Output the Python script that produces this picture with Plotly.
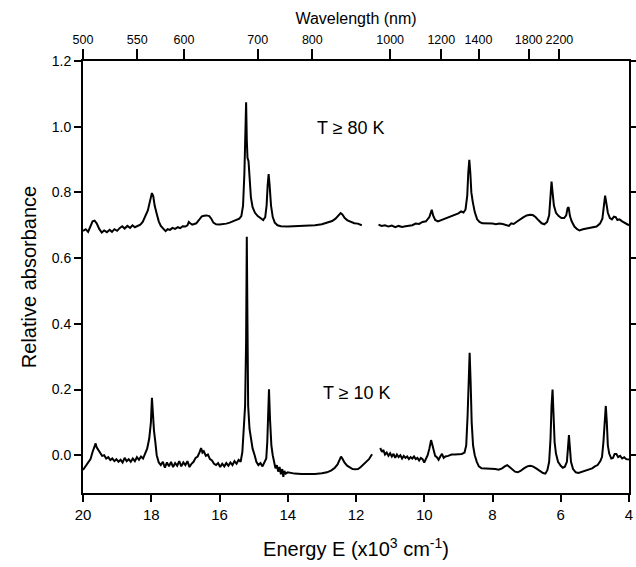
import plotly.graph_objects as go

# ---- T >= 80 K spectrum (energy in 10^3 cm^-1, relative absorbance); None marks the gap
energy_80 = [20.00, 19.92, 19.85, 19.78, 19.72, 19.66, 19.60, 19.52, 19.45, 19.38, 19.30, 19.22, 19.15, 19.08, 19.00,
             18.92, 18.85, 18.78, 18.70, 18.62, 18.55, 18.48, 18.40, 18.32, 18.25, 18.18, 18.10, 18.04, 17.98, 17.94,
             17.90, 17.84, 17.78, 17.72, 17.65, 17.58, 17.52, 17.45, 17.38, 17.30, 17.22, 17.15, 17.08, 17.00, 16.94,
             16.90, 16.86, 16.80, 16.74, 16.68, 16.60, 16.52, 16.45, 16.38, 16.30, 16.24, 16.18, 16.10, 16.00, 15.90,
             15.80, 15.70, 15.60, 15.50, 15.42, 15.36, 15.31, 15.27, 15.24, 15.22, 15.20, 15.18, 15.15, 15.12, 15.08,
             15.03, 14.96, 14.88, 14.80, 14.72, 14.66, 14.62, 14.59, 14.56, 14.53, 14.49, 14.44, 14.38, 14.30, 14.20,
             14.00, 13.80, 13.60, 13.40, 13.20, 13.00, 12.85, 12.70, 12.60, 12.52, 12.45, 12.40, 12.33, 12.25, 12.15,
             12.05, 11.95, 11.83, None,
             11.34, 11.25, 11.15, 11.05, 10.95, 10.85, 10.75, 10.65, 10.55, 10.45, 10.35, 10.25, 10.15, 10.05, 9.95,
             9.85, 9.78, 9.74, 9.68, 9.60, 9.50, 9.40, 9.30, 9.20, 9.10, 9.00, 8.92, 8.85, 8.79, 8.74,
             8.71, 8.68, 8.65, 8.62, 8.58, 8.52, 8.45, 8.38, 8.30, 8.20, 8.10, 8.00, 7.90, 7.80, 7.70,
             7.60, 7.52, 7.45, 7.38, 7.30, 7.20, 7.10, 7.00, 6.90, 6.82, 6.74, 6.65, 6.56, 6.48, 6.40,
             6.34, 6.30, 6.27, 6.24, 6.20, 6.14, 6.06, 5.98, 5.90, 5.84, 5.80, 5.77, 5.73, 5.68, 5.60,
             5.52, 5.45, 5.35, 5.25, 5.15, 5.05, 4.95, 4.85, 4.78, 4.74, 4.70, 4.66, 4.62, 4.56, 4.50,
             4.44, 4.39, 4.34, 4.28, 4.20, 4.12, 4.00]
absorb_80 = [0.683, 0.688, 0.680, 0.695, 0.712, 0.714, 0.706, 0.688, 0.678, 0.684, 0.679, 0.686, 0.680, 0.688, 0.683,
             0.692, 0.697, 0.690, 0.698, 0.692, 0.700, 0.694, 0.699, 0.702, 0.710, 0.725, 0.745, 0.772, 0.798, 0.788,
             0.760, 0.735, 0.712, 0.698, 0.690, 0.682, 0.688, 0.686, 0.692, 0.689, 0.694, 0.691, 0.697, 0.696, 0.700,
             0.710, 0.706, 0.702, 0.704, 0.706, 0.716, 0.727, 0.729, 0.730, 0.728, 0.720, 0.708, 0.703, 0.702, 0.703,
             0.705, 0.708, 0.712, 0.716, 0.720, 0.728, 0.760, 0.860, 0.960, 1.074, 0.960, 0.905, 0.895, 0.840, 0.785,
             0.755, 0.738, 0.728, 0.722, 0.716, 0.725, 0.760, 0.820, 0.856, 0.820, 0.760, 0.725, 0.708, 0.700, 0.697,
             0.696, 0.697, 0.697, 0.698, 0.700, 0.703, 0.707, 0.713, 0.720, 0.730, 0.737, 0.733, 0.722, 0.715, 0.710,
             0.706, 0.705, 0.700, None,
             0.702, 0.698, 0.700, 0.696, 0.699, 0.694, 0.698, 0.695, 0.697, 0.699, 0.700, 0.705, 0.704, 0.710, 0.712,
             0.725, 0.747, 0.730, 0.716, 0.712, 0.716, 0.720, 0.724, 0.727, 0.732, 0.736, 0.742, 0.739, 0.748, 0.790,
             0.860, 0.899, 0.860, 0.800, 0.772, 0.740, 0.718, 0.710, 0.706, 0.706, 0.704, 0.705, 0.703, 0.705, 0.704,
             0.700, 0.698, 0.706, 0.704, 0.710, 0.718, 0.724, 0.730, 0.732, 0.731, 0.725, 0.715, 0.706, 0.703, 0.710,
             0.730, 0.780, 0.833, 0.800, 0.760, 0.738, 0.728, 0.722, 0.722, 0.730, 0.752, 0.755, 0.728, 0.712, 0.696,
             0.688, 0.684, 0.688, 0.690, 0.692, 0.695, 0.696, 0.705, 0.720, 0.755, 0.790, 0.765, 0.738, 0.722, 0.718,
             0.726, 0.725, 0.716, 0.718, 0.712, 0.708, 0.700]

# ---- T >= 10 K spectrum
energy_10 = [20.00, 19.95, 19.90, 19.84, 19.78, 19.72, 19.66, 19.63, 19.60, 19.55, 19.50, 19.44, 19.38, 19.32, 19.26,
             19.20, 19.14, 19.08, 19.02, 18.96, 18.90, 18.84, 18.78, 18.72, 18.66, 18.60, 18.54, 18.48, 18.42, 18.36,
             18.30, 18.24, 18.18, 18.12, 18.06, 18.01, 17.98, 17.95, 17.92, 17.88, 17.84, 17.78, 17.72, 17.66, 17.60,
             17.54, 17.48, 17.42, 17.36, 17.30, 17.24, 17.18, 17.12, 17.06, 17.00, 16.94, 16.88, 16.82, 16.76, 16.70,
             16.64, 16.58, 16.54, 16.50, 16.46, 16.40, 16.34, 16.28, 16.22, 16.16, 16.10, 16.04, 15.98, 15.92, 15.86,
             15.80, 15.74, 15.68, 15.62, 15.56, 15.50, 15.44, 15.38, 15.33, 15.29, 15.25, 15.22, 15.20, 15.18, 15.16,
             15.12, 15.08, 15.03, 14.97, 14.92, 14.86, 14.80, 14.74, 14.68, 14.63, 14.60, 14.57, 14.55, 14.52, 14.48,
             14.44, 14.40, 14.36, 14.32, 14.28, 14.24, 14.20, 14.16, 14.13, 14.10, 14.06, 14.00, 13.80, 13.60, 13.40,
             13.20, 13.00, 12.85, 12.72, 12.62, 12.54, 12.48, 12.44, 12.40, 12.34, 12.26, 12.18, 12.10, 12.02, 11.94,
             11.86, 11.78, 11.70, 11.62, 11.53, None,
             11.29, 11.24, 11.20, 11.15, 11.10, 11.05, 11.00, 10.95, 10.90, 10.85, 10.80, 10.75, 10.70, 10.65, 10.60,
             10.55, 10.50, 10.45, 10.40, 10.35, 10.30, 10.25, 10.20, 10.15, 10.10, 10.05, 10.00, 9.95, 9.90, 9.85,
             9.80, 9.76, 9.72, 9.68, 9.63, 9.58, 9.53, 9.48, 9.43, 9.38, 9.30, 9.20, 9.10, 9.00, 8.90,
             8.82, 8.77, 8.73, 8.70, 8.67, 8.64, 8.61, 8.57, 8.52, 8.46, 8.40, 8.32, 8.22, 8.12, 8.02,
             7.92, 7.82, 7.72, 7.64, 7.57, 7.50, 7.42, 7.34, 7.26, 7.18, 7.08, 6.98, 6.90, 6.82, 6.72,
             6.62, 6.52, 6.45, 6.39, 6.34, 6.30, 6.27, 6.24, 6.21, 6.18, 6.14, 6.08, 6.00, 5.94, 5.88,
             5.82, 5.79, 5.76, 5.73, 5.70, 5.64, 5.56, 5.48, 5.38, 5.28, 5.18, 5.08, 5.00, 4.92, 4.84,
             4.79, 4.75, 4.71, 4.68, 4.65, 4.62, 4.58, 4.52, 4.47, 4.42, 4.37, 4.32, 4.26, 4.20, 4.14,
             4.08, 4.00]
absorb_10 = [-0.045, -0.038, -0.030, -0.020, -0.012, 0.010, 0.030, 0.036, 0.024, 0.015, 0.005, -0.002, 0.000, -0.010, -0.006,
             -0.015, -0.010, -0.018, -0.012, -0.020, -0.014, -0.022, -0.008, -0.018, -0.012, -0.020, -0.010, -0.018, -0.006, -0.014,
             -0.004, -0.010, 0.005, 0.020, 0.050, 0.100, 0.175, 0.120, 0.075, 0.040, 0.000, -0.022, -0.030, -0.020, -0.038,
             -0.022, -0.034, -0.020, -0.036, -0.024, -0.032, -0.018, -0.034, -0.022, -0.030, -0.018, -0.036, -0.026, -0.020, -0.008,
             -0.004, 0.010, 0.022, 0.008, 0.012, -0.002, 0.002, -0.012, -0.016, -0.026, -0.030, -0.024, -0.036, -0.026, -0.034,
             -0.024, -0.032, -0.022, -0.030, -0.018, -0.026, -0.014, -0.020, 0.010, 0.066, 0.150, 0.350, 0.665, 0.400, 0.150,
             0.080, 0.050, 0.020, 0.000, -0.020, -0.030, -0.024, -0.034, -0.020, -0.010, 0.040, 0.120, 0.201, 0.110, 0.030,
             0.000, -0.020, -0.040, -0.030, -0.050, -0.036, -0.058, -0.042, -0.066, -0.048, -0.056, -0.052, -0.056, -0.057, -0.058,
             -0.057, -0.055, -0.052, -0.046, -0.038, -0.028, -0.012, -0.004, -0.010, -0.022, -0.032, -0.038, -0.042, -0.043, -0.042,
             -0.036, -0.028, -0.020, -0.012, 0.003, None,
             0.022, 0.010, 0.016, 0.002, 0.008, -0.002, 0.006, -0.004, 0.004, -0.008, 0.002, -0.006, 0.000, -0.010, -0.002,
             -0.008, -0.004, -0.012, -0.006, -0.010, -0.004, -0.012, -0.008, -0.016, -0.008, -0.012, -0.022, -0.010, 0.000, 0.020,
             0.046, 0.030, 0.010, -0.002, -0.006, -0.014, -0.004, 0.004, -0.008, -0.004, -0.002, 0.002, 0.002, 0.004, 0.004,
             0.008, 0.030, 0.120, 0.250, 0.312, 0.220, 0.100, 0.030, 0.000, -0.020, -0.034, -0.040, -0.040, -0.042, -0.040,
             -0.042, -0.044, -0.040, -0.034, -0.030, -0.036, -0.044, -0.050, -0.052, -0.048, -0.040, -0.034, -0.032, -0.034, -0.040,
             -0.048, -0.054, -0.056, -0.045, -0.020, 0.050, 0.150, 0.200, 0.120, 0.040, 0.005, -0.020, -0.032, -0.038, -0.035,
             -0.020, 0.020, 0.061, 0.020, -0.020, -0.042, -0.052, -0.054, -0.050, -0.048, -0.044, -0.040, -0.034, -0.030, -0.018,
             -0.005, 0.040, 0.110, 0.150, 0.100, 0.030, 0.005, -0.010, -0.008, 0.004, 0.004, -0.006, -0.002, -0.010, -0.006,
             -0.012, -0.013]

# ---- axes
y_ticks = [0.0, 0.2, 0.4, 0.6, 0.8, 1.0, 1.2]
x_ticks = [20, 18, 16, 14, 12, 10, 8, 6, 4]
wavelength_labels = ["500", "550", "600", "700", "800", "1000", "1200", "1400", "1800", "2200"]
wavelength_tick_energy = [20.0, 18.41, 17.04, 14.88, 13.28, 11.0, 9.50, 8.41, 6.94, 6.04]

FONT = "Liberation Sans, Arial, sans-serif"
line_style = dict(color="black", width=2)

fig = go.Figure()
fig.add_trace(go.Scatter(x=energy_80, y=absorb_80, mode="lines", line=line_style,
                         connectgaps=False, showlegend=False))
fig.add_trace(go.Scatter(x=energy_10, y=absorb_10, mode="lines", line=line_style,
                         connectgaps=False, showlegend=False))
# invisible trace to activate the top axis
fig.add_trace(go.Scatter(x=[20, 4], y=[None, None], xaxis="x2", mode="lines",
                         showlegend=False, hoverinfo="skip"))

fig.add_annotation(x=12.14, y=0.997, text="T ≥ 80 K", showarrow=False,
                   font=dict(size=18, color="black", family=FONT))
fig.add_annotation(x=11.97, y=0.19, text="T ≥ 10 K", showarrow=False,
                   font=dict(size=18, color="black", family=FONT))

fig.update_layout(
    width=636, height=567,
    margin=dict(l=83, r=7, t=61, b=74),
    paper_bgcolor="white", plot_bgcolor="white",
    font=dict(family=FONT, color="black"),
    xaxis=dict(range=[20, 4], tickvals=x_ticks, ticktext=[str(v) for v in x_ticks],
               ticks="outside", ticklen=7, tickwidth=1.5, tickcolor="black",
               showline=True, linecolor="black", linewidth=2, mirror=False,
               showgrid=False, zeroline=False, automargin=False, tickangle=0,
               tickfont=dict(size=15, family=FONT),
               title=dict(text="Energy E (x10<sup>3</sup> cm<sup>-1</sup>)",
                          font=dict(size=20, family=FONT), standoff=20)),
    xaxis2=dict(range=[20, 4], overlaying="x", side="top",
                tickvals=wavelength_tick_energy, ticktext=wavelength_labels,
                ticks="outside", ticklen=10, tickwidth=1.5, tickcolor="black",
                showline=True, linecolor="black", linewidth=2,
                showgrid=False, zeroline=False, automargin=False, tickangle=0,
                tickfont=dict(size=12.5, family=FONT),
                title=dict(text="Wavelength (nm)", font=dict(size=16, family=FONT), standoff=4)),
    yaxis=dict(range=[-0.115, 1.2], tickvals=y_ticks, tickformat=".1f",
               ticks="outside", ticklen=7, tickwidth=1.5, tickcolor="black",
               showline=True, linecolor="black", linewidth=2, mirror="ticks",
               showgrid=False, zeroline=False, automargin=False,
               tickfont=dict(size=14, family=FONT),
               title=dict(text="Relative absorbance", font=dict(size=20, family=FONT), standoff=10)),
)

# remove the default page margin so the figure fills the window exactly
fig.write_html("out.html",
               config={"displayModeBar": False},
               post_script="document.body.style.margin='0';document.body.style.overflow='hidden';")
